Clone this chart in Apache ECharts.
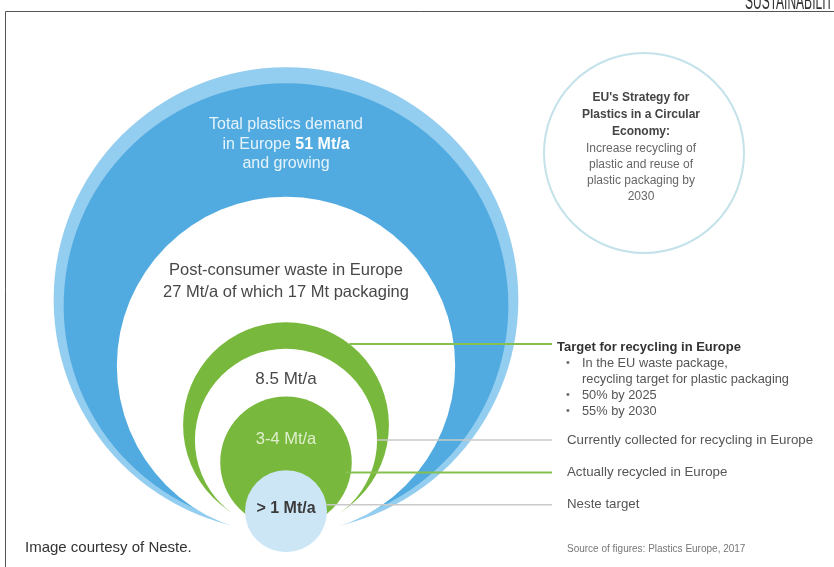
<!DOCTYPE html>
<html><head><meta charset="utf-8">
<script src="https://cdn.jsdelivr.net/npm/echarts@6/dist/echarts.min.js"></script>
<style>html,body{margin:0;padding:0;background:#fff}#chart{width:834px;height:567px}</style>
</head><body><div id="chart"></div>
<script>
// ---------- data ----------
const circleNames = ['Total plastics demand in Europe', 'Post-consumer waste in Europe', 'Target for recycling in Europe', 'Actually recycled in Europe', 'Neste target'];
const circleValues = [51, 27, 8.5, 3, 1]; // Mt/a ("3-4" -> lower bound, "> 1" -> 1)
const demandText = ['Total plastics demand', 'in Europe {b|51 Mt/a}', 'and growing'];
const wasteText = ['Post-consumer waste in Europe', '27 Mt/a of which 17 Mt packaging'];
const targetValueText = '8.5 Mt/a';
const recycledValueText = '3-4 Mt/a';
const nesteValueText = '> 1 Mt/a';
const calloutLabels = ['Target for recycling in Europe', 'Currently collected for recycling in Europe', 'Actually recycled in Europe', 'Neste target'];
const targetBullets = ['In the EU waste package,', 'recycling target for plastic packaging', '50% by 2025', '55% by 2030'];
const bulletMarks = [true, false, true, true];
const strategyTitle = ["EU's Strategy for", 'Plastics in a Circular', 'Economy:'];
const strategyBody = ['Increase recycling of', 'plastic and reuse of', 'plastic packaging by', '2030'];
const sourceNote = 'Source of figures: Plastics Europe, 2017';
const creditNote = 'Image courtesy of Neste.';
const sectionTitle = 'SUSTAINABILITY';

// ---------- drawing ----------
const FONT = '"Liberation Sans", Arial, Helvetica, sans-serif';
const sizeScale = v => 41 * Math.pow(v, 0.43); // area-like scale for the circles
const BLUE = '#52abe0', HALO = '#93cdef', GREEN = '#78b83d', NESTE = '#cde6f6';
const GREY_LINE = '#c9c9c9', GREEN_LINE = '#86c04f';
const LINE_END = 266, TXT = '#555';

function renderItem(params, api) {
  const i = params.dataIndex;
  const r = sizeScale(api.value(1));
  const P = (x, y) => api.coord([x, y]);
  const R = u => api.size([u, 0])[0];
  const circle = (cy, rr, fill) => { const c = P(0, cy); return { type: 'circle', shape: { cx: c[0], cy: c[1], r: R(rr) }, style: { fill } }; };
  const text = (x, y, t, st) => { const c = P(x, y); return { type: 'text', x: c[0], y: c[1], style: Object.assign({ text: t, font: '13px ' + FONT, fill: TXT, align: 'left', verticalAlign: 'middle' }, st) }; };
  const leader = (x0, y0, color, w) => { const a = P(x0, y0), b = P(LINE_END, y0); return { type: 'line', shape: { x1: a[0], y1: a[1], x2: b[0], y2: b[1] }, style: { stroke: color, lineWidth: w } }; };
  const ch = [];
  if (i === 0) {
    ch.push(circle(r + 6, r + 10, HALO));
    ch.push(circle(r, r, BLUE));
    ch.push(text(0, r + 0.725 * r, demandText.join('\n'), {
      font: '16px ' + FONT, fill: '#e6f3fb', align: 'center', lineHeight: 19.5,
      rich: { b: { font: 'bold 16px ' + FONT, fill: '#ffffff', lineHeight: 19.5 } }
    }));
  } else if (i === 1) {
    const cy = r - 7;
    ch.push(circle(cy, r, '#ffffff'));
    ch.push(text(0, r - 3 + 0.475 * r, wasteText.join('\n'), { font: '16.5px ' + FONT, fill: '#484848', align: 'center', lineHeight: 22 }));
  } else if (i === 2) {
    const gr = r * 0.885, gcy = gr - 3;
    ch.push(circle(r, r, GREEN));
    ch.push(circle(gcy, gr, '#ffffff'));
    ch.push(text(0, gcy + 0.67 * gr, targetValueText, { font: '17px ' + FONT, fill: '#484848', align: 'center' }));
    const ang = 52 * Math.PI / 180;
    const ly = r + Math.sin(ang) * r;
    ch.push(leader(Math.cos(ang) * r, ly, GREEN_LINE, 2));
    ch.push(text(LINE_END + 5, ly - 3, calloutLabels[0], { font: 'bold 13px ' + FONT, fill: '#333' }));
    targetBullets.forEach((t, k) => {
      if (bulletMarks[k]) ch.push(text(LINE_END + 14, ly - 19 - 16 * k, '•', { font: '11px ' + FONT, fill: '#666' }));
      ch.push(text(LINE_END + 30, ly - 19 - 16 * k, t, { font: '12.8px ' + FONT, fill: TXT }));
    });
    ch.push(leader(gr, gcy, GREY_LINE, 1.5));
    ch.push(text(LINE_END + 15, gcy, calloutLabels[1], { font: '13.3px ' + FONT, fill: TXT }));
  } else if (i === 3) {
    ch.push(circle(r, r, GREEN));
    ch.push(text(0, r + 0.34 * r, recycledValueText, { font: '16.5px ' + FONT, fill: '#e0efcd', align: 'center' }));
    const ang = -9 * Math.PI / 180;
    const ly = r + Math.sin(ang) * r;
    ch.push(leader(Math.cos(ang) * r - 6, ly, GREEN_LINE, 2));
    ch.push(text(LINE_END + 15, ly, calloutLabels[2], { font: '13.3px ' + FONT, fill: TXT }));
  } else if (i === 4) {
    const cy = 0.41 * r;
    ch.push(circle(cy, r, NESTE));
    ch.push(text(0, cy + 0.07 * r, nesteValueText, { font: 'bold 16px ' + FONT, fill: '#3a3a3a', align: 'center' }));
    const ang = 9 * Math.PI / 180;
    const ly = cy + Math.sin(ang) * r;
    ch.push(leader(Math.cos(ang) * r, ly, GREY_LINE, 1.5));
    ch.push(text(LINE_END + 15, ly, calloutLabels[3], { font: '13.3px ' + FONT, fill: TXT }));
  }
  return { type: 'group', children: ch };
}

const chart = echarts.init(document.getElementById('chart'), null, { renderer: 'canvas' });
chart.setOption({
  backgroundColor: '#ffffff',
  animation: false,
  grid: { left: 0, right: 0, top: 0, bottom: 0 },
  xAxis: { type: 'value', min: -286, max: 548, show: false },
  yAxis: { type: 'value', min: -39, max: 528, show: false },
  series: [{
    type: 'custom',
    renderItem,
    data: circleValues.map((v, k) => ({ name: circleNames[k], value: [k, v] })),
    clip: false
  }],
  graphic: [
    { type: 'polyline', shape: { points: [[5.5, 567], [5.5, 11.5], [834, 11.5]] }, style: { stroke: '#555', lineWidth: 1, fill: null } },
    { type: 'text', x: 745, y: 14, scaleX: 0.5, style: { text: sectionTitle, font: '24px "Liberation Sans", sans-serif', fill: '#333', verticalAlign: 'bottom' } },
    { type: 'circle', shape: { cx: 644, cy: 153, r: 100 }, style: { fill: 'none', stroke: '#c3e2ea', lineWidth: 2 } },
    { type: 'text', x: 641, y: 115, style: { text: strategyTitle.join('\n'), font: 'bold 12px ' + FONT, fill: '#444', align: 'center', verticalAlign: 'middle', lineHeight: 17 } },
    { type: 'text', x: 641, y: 173, style: { text: strategyBody.join('\n'), font: '12px ' + FONT, fill: '#666', align: 'center', verticalAlign: 'middle', lineHeight: 16 } },
    { type: 'text', x: 25, y: 548, style: { text: creditNote, font: '15px ' + FONT, fill: '#333', verticalAlign: 'middle' } },
    { type: 'text', x: 567, y: 549, style: { text: sourceNote, font: '10px ' + FONT, fill: '#777', verticalAlign: 'middle' } }
  ]
});
</script></body></html>
